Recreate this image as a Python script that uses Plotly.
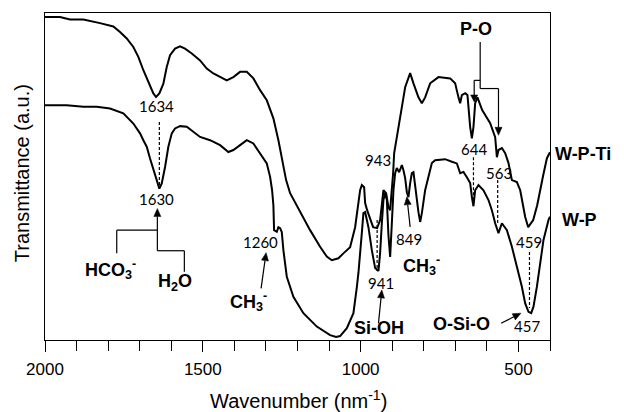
import math
import plotly.graph_objects as go

# W-P-Ti spectrum (upper curve)
wn_wpti = [2000, 1952.5, 1920.8, 1878.6, 1825.7, 1783.5, 1762.3, 1741, 1720.1, 1704.3, 1688.4, 1672.6,
           1656.7, 1648.2, 1637.7, 1625, 1614.3, 1603.8, 1588, 1572.1, 1556.3, 1535, 1508.7, 1487.5,
           1466.5, 1424.1, 1403.2, 1381.9, 1360.7, 1339.8, 1318.5, 1297.3, 1276.4, 1260.5, 1244.7,
           1236.1, 1223.4, 1191.8, 1160.1, 1128.4, 1107.1, 1091.3, 1070.4, 1054.5, 1033.3, 1017.4,
           1007, 1001.6, 996.2, 988.9, 985.7, 979.4, 960.4, 947.7, 938.2, 931.8, 927.7, 919.2, 911.9,
           906.5, 901.1, 897, 893.8, 887.5, 880.2, 869.4, 858.9, 843.1, 832.6, 816.8, 806, 795.6,
           779.7, 753.4, 716.3, 700.5, 690, 684.6, 679.3, 668.8, 661.5, 652.9, 647.5, 642.5, 637.1,
           629.8, 614.9, 589.5, 573.7, 568.3, 563.2, 552.4, 542, 531.5, 520.7, 504.9, 494.4, 488.1,
           478.6, 469.1, 453.2, 440.6, 431, 421.5, 409.8, 400]
tr_wpti = [98.8, 98.8, 98.0, 98.0, 96.9, 95.9, 94.2, 92.2, 89.6, 86.6, 82.5, 78.9,
           75.4, 74.3, 75.4, 78.4, 83.5, 87.1, 89.1, 89.8, 89.1, 87.6, 85.5, 83.0,
           81.5, 79.4, 80.4, 82.0, 82.0, 80.0, 76.4, 73.3, 67.8, 61.1, 53.5,
           48.9, 44.9, 39.1, 33.6, 28.5, 25.5, 24.4, 25.0, 26.5, 28.4, 34.5,
           41.9, 45.8, 47.4, 46.7, 41.9, 39.7, 34.5, 34.2, 36.7, 43.7, 45.8, 44.9, 40.6,
           39.7, 44.9, 51.0, 57.1, 61.1, 65.1, 71.2, 77.3, 81.6, 78.5, 74.2, 72.4, 74.2,
           78.5, 80.4, 80.0, 78.5, 74.2, 72.4, 74.9, 75.5, 74.9, 65.1, 61.7, 65.1, 72.4,
           74.2, 70.3, 66.3, 62.0, 55.9, 58.1, 58.7, 57.1, 54.1, 48.9, 48.3, 45.8, 42.8,
           37.6, 34.5, 36.7, 41.2, 46.4, 50.4, 55.6, 57.4]

# W-P spectrum (lower curve)
wn_wp = [2000, 1931.2, 1878.6, 1836.1, 1794, 1751.8, 1720.1, 1709.4, 1698.9, 1688.4, 1677.7, 1667.2,
         1651.3, 1637.7, 1630.1, 1619.6, 1609.2, 1598.4, 1588, 1572.1, 1550.9, 1530, 1508.7, 1477,
         1445.3, 1419, 1403.2, 1381.9, 1360.7, 1339.8, 1318.5, 1297.3, 1286.8, 1280.5, 1276.4,
         1274.2, 1265.6, 1260.5, 1255.1, 1249.8, 1244.7, 1233.9, 1213, 1181.3, 1138.8, 1096.7,
         1077.6, 1065, 1043.7, 1022.8, 1012, 1007, 996.2, 991.1, 985.7, 975.3, 964.5, 954, 943.5,
         938.2, 932.8, 927.7, 922.3, 916.9, 911.9, 906.5, 901.1, 896, 890.6, 885.3, 878, 869.4,
         864.3, 858.9, 853.5, 848.5, 843.1, 837.7, 832.6, 827.1, 816.8, 811.4, 806, 795.6, 785.1,
         774.3, 763.9, 732.2, 710.9, 695.1, 684.6, 674.1, 663.4, 652.9, 647.5, 642.5, 637.1, 626.6,
         610.8, 594.9, 584.2, 573.7, 563.2, 552.4, 536.6, 520.7, 504.9, 489.1, 478.6, 468.1, 459.6,
         452.3, 441.5, 431, 420.6, 404.8, 400]
tr_wp = [71.8, 71.8, 71.3, 71.3, 70.8, 69.3, 66.2, 64.7, 63.2, 61.1, 59.1, 55.5,
         50.9, 46.3, 47.9, 52.9, 59.1, 63.2, 64.7, 65.4, 65.2, 63.6, 62.1, 61.1,
         59.6, 57.5, 58.1, 59.6, 61.1, 60.1, 57.0, 54.0, 49.9, 45.8, 41.2,
         33.6, 33.1, 34.5, 34.2, 33.0, 27.5, 19.3, 13.2, 8.2, 4.1, 1.5,
         0.9, 1.2, 3.6, 8.2, 16.2, 20.5, 32.7, 38.8, 39.1, 34.5, 27.5, 22.0, 21.1,
         26.6, 35.7, 42.8, 44.9, 42.8, 32.1, 25.4, 35.7, 45.8, 51.0, 52.6, 51.3, 53.5,
         51.9, 49.5, 45.2, 43.7, 48.0, 51.0, 51.3, 46.4, 39.1, 36.1, 38.8, 45.8, 50.4,
         54.1, 55.0, 55.3, 54.5, 54.0, 51.0, 51.4, 49.8, 48.0, 43.7, 40.9, 45.8, 47.4,
         45.8, 42.8, 39.7, 35.7, 32.7, 35.7, 33.6, 28.5, 22.4, 16.3, 11.2, 8.6, 8.2,
         10.2, 16.3, 24.4, 30.6, 36.7, 37.7]

tick_vals = [2000, 1500, 1000, 500]
tick_text = ["2000", "1500", "1000", "500"]

X_RANGE = [2000, 400]
Y_RANGE = [0, 100]
W, H = 624, 412
ML, MR, MT, MB = 45, 74, 13, 72
PX_X = (X_RANGE[0] - X_RANGE[1]) / (W - ML - MR)   # data units per pixel (x)
PX_Y = (Y_RANGE[1] - Y_RANGE[0]) / (H - MT - MB)   # data units per pixel (y)

NUM_FONT = dict(family="Lato, Noto Sans, DejaVu Sans, sans-serif", size=15, color="black")
BOLD_FONT = dict(family="Liberation Sans, Arial, sans-serif", size=18, color="black", weight="bold")
AX_FONT = dict(family="Liberation Sans, Arial, sans-serif", size=20, color="black")

fig = go.Figure()
fig.add_trace(go.Scatter(x=wn_wpti, y=tr_wpti, mode="lines", name="W-P-Ti",
                         line=dict(color="black", width=2), showlegend=False))
fig.add_trace(go.Scatter(x=wn_wp, y=tr_wp, mode="lines", name="W-P",
                         line=dict(color="black", width=2), showlegend=False))

def text(x, y, s, font):
    fig.add_annotation(x=x, y=y, xref="x", yref="y", text=s, showarrow=False,
                       font=font, xanchor="center", yanchor="middle")

def seg(x0, y0, x1, y1, dash=None):
    fig.add_shape(type="line", xref="x", yref="y", x0=x0, y0=y0, x1=x1, y1=y1,
                  line=dict(color="black", width=1.2, dash=dash if dash else "solid"))

def arrow(xt, yt, xs, ys, head_len=8, head_half=3.5):
    # convert to pixel space (x grows as wavenumber falls, y grows downward)
    tx, ty = (X_RANGE[0] - xt) / PX_X, -yt / PX_Y
    sx, sy = (X_RANGE[0] - xs) / PX_X, -ys / PX_Y
    dx, dy = tx - sx, ty - sy
    d = math.hypot(dx, dy)
    ux, uy = dx / d, dy / d
    bx, by = tx - ux * head_len, ty - uy * head_len
    px_, py_ = -uy, ux
    pts = [(tx, ty), (bx + px_ * head_half, by + py_ * head_half), (bx - px_ * head_half, by - py_ * head_half)]
    to_data = lambda p: (X_RANGE[0] - p[0] * PX_X, -p[1] * PX_Y)
    dpts = [to_data(p) for p in pts]
    path = "M {:.3f},{:.3f} L {:.3f},{:.3f} L {:.3f},{:.3f} Z".format(
        dpts[0][0], dpts[0][1], dpts[1][0], dpts[1][1], dpts[2][0], dpts[2][1])
    fig.add_shape(type="path", xref="x", yref="y", path=path,
                  fillcolor="black", line=dict(color="black", width=0.5))
    bd = to_data((bx, by))
    seg(xs, ys, bd[0], bd[1])

# peak numbers
text(1648, 71.5, "1634", NUM_FONT)
text(1648, 43.1, "1630", NUM_FONT)
text(1318, 29.9, "1260", NUM_FONT)
text(944, 55.0, "943", NUM_FONT)
text(935, 17.3, "941", NUM_FONT)
text(848, 30.8, "849", NUM_FONT)
text(642, 58.4, "644", NUM_FONT)
text(563, 51.0, "563", NUM_FONT)
text(465, 30.0, "459", NUM_FONT)
text(473, 4.4, "457", NUM_FONT)

# dashed guide lines
DASH = "3px,2px"
seg(1637.7, 66.7, 1637.7, 46.8, DASH)
seg(947.7, 36.7, 947.7, 21.1, DASH)
seg(642.5, 55.9, 642.5, 40.9, DASH)
seg(565.8, 48.9, 565.8, 35.7, DASH)
seg(465, 26.9, 465, 9.8, DASH)

# HCO3- / H2O bracket
arrow(1644, 40.2, 1644, 27.3)
seg(1772.7, 33.6, 1644, 33.6)
seg(1772.7, 33.6, 1772.7, 26.5)
seg(1644, 27.3, 1558.5, 27.3)
seg(1558.5, 27.3, 1558.5, 20.9)
text(1794, 21.7, "HCO<sub>3</sub><sup>-</sup>", BOLD_FONT)
text(1588, 17.7, "H<sub>2</sub>O", BOLD_FONT)

# CH3- at 1260
arrow(1299.5, 26.7, 1315.4, 15.8)
text(1355.6, 11.7, "CH<sub>3</sub><sup>-</sup>", BOLD_FONT)

# Si-OH
arrow(932.8, 15.3, 943.5, 5.1)
text(940.4, 3.6, "Si-OH", BOLD_FONT)

# CH3- at 849
arrow(853.5, 43.8, 843.1, 34.6)
text(806, 22.9, "CH<sub>3</sub><sup>-</sup>", BOLD_FONT)

# P-O bracket
text(634, 95.2, "P-O", BOLD_FONT)
seg(621.2, 91.1, 621.2, 76.9)
seg(640.2, 79.4, 621.2, 79.4)
arrow(640.2, 72.8, 640.2, 79.4, head_len=7)
seg(621.2, 76.9, 563.2, 76.9)
arrow(563.2, 62.6, 563.2, 76.9)

# O-Si-O
arrow(492.2, 8.2, 554.7, 5.1)
text(681.5, 4.9, "O-Si-O", BOLD_FONT)

# series labels
fig.add_annotation(x=1.066, y=57.0, xref="paper", yref="y", text="W-P-Ti", showarrow=False,
                   font=BOLD_FONT, xanchor="center", yanchor="middle")
fig.add_annotation(x=1.059, y=36.7, xref="paper", yref="y", text="W-P", showarrow=False,
                   font=BOLD_FONT, xanchor="center", yanchor="middle")

# axis titles
fig.add_annotation(x=-0.0455, y=0.51, xref="paper", yref="paper", text="Transmittance (a.u.)",
                   showarrow=False, textangle=-90, font=AX_FONT, xanchor="center", yanchor="middle")
fig.add_annotation(x=0.501, y=-0.183, xref="paper", yref="paper", text="Wavenumber (nm<sup>-1</sup>)",
                   showarrow=False, font=AX_FONT, xanchor="center", yanchor="middle")

fig.update_layout(
    width=W, height=H,
    margin=dict(l=ML, r=MR, t=MT, b=MB),
    plot_bgcolor="white", paper_bgcolor="white",
    xaxis=dict(range=X_RANGE, tickmode="array", tickvals=tick_vals, ticktext=tick_text,
               ticks="outside", ticklen=11, tickwidth=1.2, tickcolor="black",
               showline=True, linecolor="black", linewidth=1.3, mirror=True,
               showgrid=False, zeroline=False, ticklabelstandoff=2,
               tickfont=dict(family="Liberation Sans, Arial, sans-serif", size=17, color="black"),
               minor=dict(dtick=100, tick0=0, ticks="outside", ticklen=10, tickwidth=1.2,
                          tickcolor="black", showgrid=False)),
    yaxis=dict(range=Y_RANGE, showticklabels=False, ticks="", showline=True, linecolor="black",
               linewidth=1.3, mirror=True, showgrid=False, zeroline=False),
)

fig.write_html("out.html", config={"displayModeBar": False},
               post_script="document.body.style.margin='0';document.body.style.padding='0';")
